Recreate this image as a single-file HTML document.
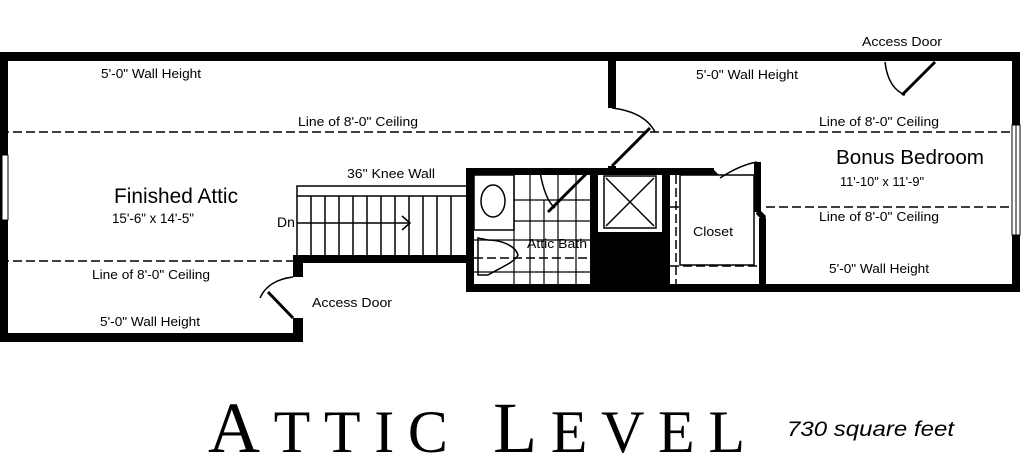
<!DOCTYPE html>
<html><head><style>html,body{margin:0;padding:0;background:#fff;}svg{display:block}</style></head>
<body>
<svg width="1024" height="469" viewBox="0 0 1024 469" xmlns="http://www.w3.org/2000/svg" font-family="Liberation Sans, sans-serif">
<rect width="1024" height="469" fill="#fff"/>
<g fill="#000">
<!-- outer walls -->
<rect x="0" y="52" width="1020" height="9"/>
<rect x="0" y="52" width="8" height="290"/>
<rect x="0" y="333" width="303" height="9"/>
<rect x="1012" y="52" width="8" height="240"/>
<rect x="293" y="255" width="10" height="22"/>
<rect x="293" y="318" width="10" height="24"/>
<rect x="293" y="255" width="180" height="8"/>
<!-- inner wall x=612 -->
<rect x="608" y="52" width="8" height="56"/>
<rect x="608" y="166" width="8" height="8"/>
<!-- bath block -->
<rect x="466" y="168" width="8" height="124"/>
<rect x="466" y="168" width="248" height="7"/>
<rect x="466" y="284" width="554" height="8"/>
<rect x="590" y="168" width="8" height="124"/>
<rect x="598" y="232" width="64" height="56"/>
<rect x="662" y="168" width="8" height="124"/>
<rect x="754" y="162" width="7" height="50"/>
<rect x="759" y="218" width="7" height="70"/>
<polygon points="712,168 722,178 716,182 706,174"/>
<polygon points="758,208 766,216 764,222 756,214"/>
</g>
<!-- windows -->
<g stroke="#000" stroke-width="1" fill="#fff">
<rect x="1012" y="125" width="8" height="110"/>
<line x1="1016" y1="125" x2="1016" y2="235"/>
<rect x="2" y="155" width="6" height="65"/>
</g>
<!-- dashed lines -->
<g stroke="#000" stroke-width="1.5" stroke-dasharray="9,4" fill="none">
<line x1="0" y1="132" x2="1012" y2="132"/>
<line x1="0" y1="261" x2="293" y2="261"/>
<line x1="766" y1="207" x2="1012" y2="207"/>
<line x1="670" y1="207" x2="754" y2="207"/>
<line x1="676" y1="175" x2="676" y2="284"/>
<line x1="474" y1="258" x2="590" y2="258"/>
<line x1="670" y1="266" x2="760" y2="266"/>
</g>
<!-- stairs -->
<g stroke="#000" stroke-width="1.5" fill="none">
<rect x="297" y="186" width="170" height="10"/>
<line x1="297" y1="196" x2="297" y2="255"/>
<line x1="311" y1="196" x2="311" y2="255"/><line x1="325" y1="196" x2="325" y2="255"/>
<line x1="339" y1="196" x2="339" y2="255"/><line x1="353" y1="196" x2="353" y2="255"/>
<line x1="367" y1="196" x2="367" y2="255"/><line x1="381" y1="196" x2="381" y2="255"/>
<line x1="395" y1="196" x2="395" y2="255"/><line x1="409" y1="196" x2="409" y2="255"/>
<line x1="423" y1="196" x2="423" y2="255"/><line x1="437" y1="196" x2="437" y2="255"/>
<line x1="451" y1="196" x2="451" y2="255"/>
<line x1="297" y1="223" x2="410" y2="223"/>
<polyline points="402,216 410,223 402,230"/>
</g>
<!-- bath interior -->
<g stroke="#000" stroke-width="1.5" fill="none">
<rect x="474" y="175" width="40" height="55"/>
<ellipse cx="493" cy="201" rx="12" ry="16"/>
<path d="M478,238 L478,275 L488,275 C500,268 515,262 518,255 C515,245 500,240 488,240 Z"/>
<g stroke-width="1.2">
<line x1="514" y1="200" x2="590" y2="200"/><line x1="514" y1="221" x2="590" y2="221"/>
<line x1="474" y1="240" x2="590" y2="240"/><line x1="474" y1="272" x2="590" y2="272"/>
<line x1="514" y1="175" x2="514" y2="284"/><line x1="530" y1="175" x2="530" y2="284"/>
<line x1="544" y1="200" x2="544" y2="284"/><line x1="558" y1="175" x2="558" y2="284"/>
<line x1="576" y1="175" x2="576" y2="284"/>
</g>
<rect x="604" y="176" width="52" height="52" fill="#fff"/>
<line x1="606" y1="178" x2="654" y2="226"/><line x1="654" y1="178" x2="606" y2="226"/>
<rect x="680" y="175" width="74" height="90" fill="#fff"/>
</g>
<!-- doors -->
<g stroke="#000" stroke-width="3" fill="none">
<line x1="612" y1="166" x2="650" y2="128"/>
<line x1="590" y1="170" x2="548" y2="212"/>
<line x1="293" y1="318" x2="268" y2="292"/>
<line x1="935" y1="62" x2="902" y2="95"/>
</g>
<g stroke="#000" stroke-width="1.5" fill="none">
<path d="M612,108 Q645,112 655,132"/>
<path d="M540,172 Q545,200 555,208"/>
<path d="M293,277 Q268,280 260,298"/>
<path d="M885,62 Q888,88 905,95"/>
<path d="M720,178 Q740,165 757,162"/>
</g>
<!-- labels -->
<g fill="#000" font-size="13">
<text x="101" y="78" textLength="100" lengthAdjust="spacingAndGlyphs">5'-0" Wall Height</text>
<text x="298" y="126" textLength="120" lengthAdjust="spacingAndGlyphs">Line of 8'-0" Ceiling</text>
<text x="114" y="203" font-size="21" textLength="124" lengthAdjust="spacingAndGlyphs">Finished Attic</text>
<text x="112" y="223" font-size="14" textLength="82" lengthAdjust="spacingAndGlyphs">15'-6" x 14'-5"</text>
<text x="277" y="227" font-size="14">Dn</text>
<text x="347" y="178" textLength="88" lengthAdjust="spacingAndGlyphs">36" Knee Wall</text>
<text x="92" y="279" textLength="118" lengthAdjust="spacingAndGlyphs">Line of 8'-0" Ceiling</text>
<text x="312" y="307" textLength="80" lengthAdjust="spacingAndGlyphs">Access Door</text>
<text x="100" y="326" textLength="100" lengthAdjust="spacingAndGlyphs">5'-0" Wall Height</text>
<text x="527" y="248" textLength="60" lengthAdjust="spacingAndGlyphs">Attic Bath</text>
<text x="693" y="236" textLength="40" lengthAdjust="spacingAndGlyphs">Closet</text>
<text x="862" y="46" textLength="80" lengthAdjust="spacingAndGlyphs">Access Door</text>
<text x="696" y="79" textLength="102" lengthAdjust="spacingAndGlyphs">5'-0" Wall Height</text>
<text x="819" y="126" textLength="120" lengthAdjust="spacingAndGlyphs">Line of 8'-0" Ceiling</text>
<text x="836" y="164" font-size="20" textLength="148" lengthAdjust="spacingAndGlyphs">Bonus Bedroom</text>
<text x="840" y="186" textLength="84" lengthAdjust="spacingAndGlyphs">11'-10" x 11'-9"</text>
<text x="819" y="221" textLength="120" lengthAdjust="spacingAndGlyphs">Line of 8'-0" Ceiling</text>
<text x="829" y="273" textLength="100" lengthAdjust="spacingAndGlyphs">5'-0" Wall Height</text>
</g>
<text x="208" y="452" font-family="Liberation Serif, serif" font-size="72" fill="#000" textLength="537" lengthAdjust="spacing">A<tspan font-size="60">TTIC</tspan> L<tspan font-size="60">EVEL</tspan></text>
<text x="787" y="436" font-size="21" font-style="italic" fill="#000" textLength="167" lengthAdjust="spacingAndGlyphs">730 square feet</text>
</svg>
</body></html>
